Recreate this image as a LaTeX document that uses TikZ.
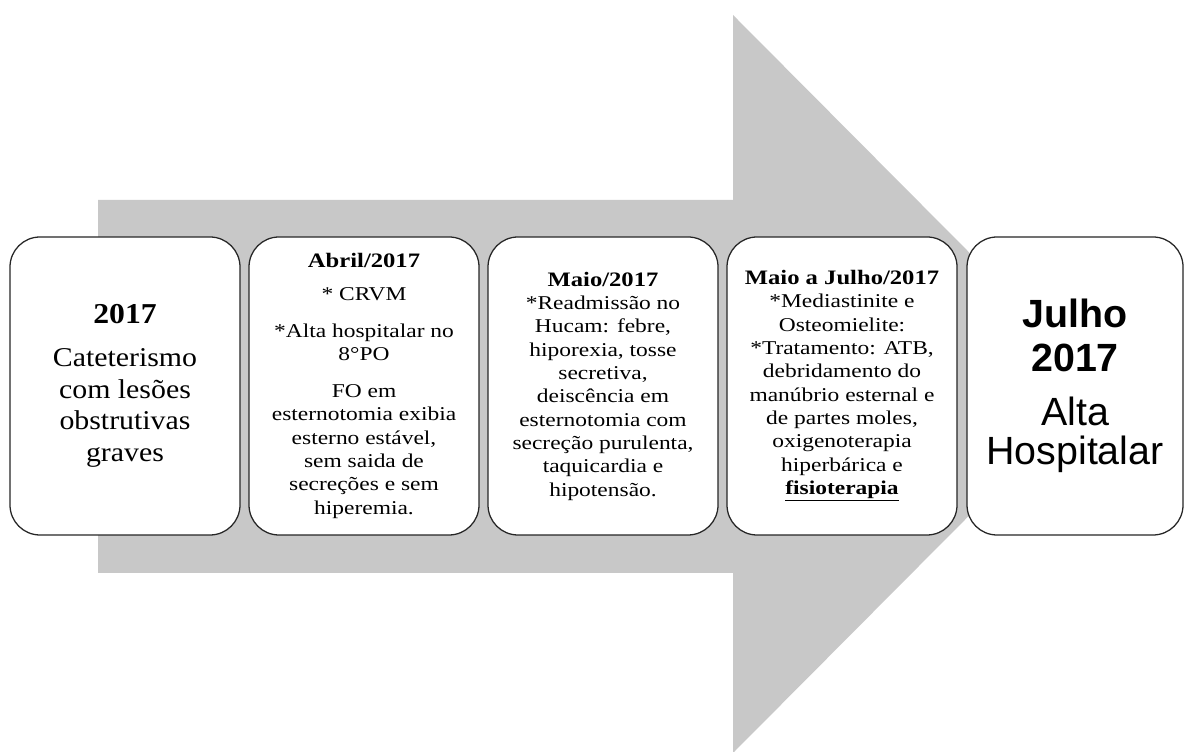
\documentclass[tikz,border=0pt]{standalone}
\usepackage{fontspec}
\setmainfont{Liberation Serif}[FakeStretch=1.2]
\newfontfamily\wideserif{Liberation Serif}[FakeStretch=1.1]
\newfontfamily\arialfont{Liberation Sans}
\definecolor{arrowgray}{RGB}{200,200,200}

\begin{document}
\begin{tikzpicture}[
  stage/.style={draw=black!85, line width=0.9pt, fill=white, rounded corners=0.75cm,
    minimum width=5.75cm, minimum height=7.45cm, align=center, inner sep=2pt,
    font=\fontsize{13.9pt}{16.6pt}\selectfont}
]
%\draw[help lines] (0,0) grid (29.6,18.8);
\useasboundingbox (0,0) rectangle (29.6,18.8);
\fill[arrowgray] (2.45,4.475) -- (2.45,13.8) -- (18.325,13.8) -- (18.325,18.425)
  -- (27.5,9.2) -- (18.325,-0.025) -- (18.325,4.475) -- cycle;

\node[stage, font=\wideserif\fontsize{19.3pt}{22.5pt}\selectfont] (s1) at (3.125,9.15)
  {{\fontsize{20.5pt}{22.5pt}\selectfont\bfseries 2017}\\[8pt]
   Cateterismo\\ com lesões\\ obstrutivas\\ graves};

\node[stage] (s2) at (9.1,9.15)
  {{\fontsize{14.6pt}{16.6pt}\selectfont\bfseries Abril/2017}\\[6.8pt]
   * CRVM\\[9.5pt]
   *Alta hospitalar no\\ 8°PO\\[9.6pt]
   FO em\\ esternotomia exibia\\ esterno estável,\\ sem saida de\\ secreções e sem\\ hiperemia.};

\node[stage] (s3) at (15.075,9.15)
  {{\fontsize{14.6pt}{16.6pt}\selectfont\bfseries Maio/2017}\\
   *Readmissão no\\ Hucam: febre,\\ hiporexia, tosse\\ secretiva,\\ deiscência em\\
   esternotomia com\\ secreção purulenta,\\ taquicardia e\\ hipotensão.};

\node[stage] (s4) at (21.05,9.15)
  {{\fontsize{14.6pt}{16.6pt}\selectfont\bfseries Maio a Julho/2017}\\
   *Mediastinite e\\ Osteomielite:\\ *Tratamento: ATB,\\ debridamento do\\
   manúbrio esternal e\\ de partes moles,\\ oxigenoterapia\\ hiperbárica e\\
   \underline{\textbf{fisioterapia}}};

\node[stage, minimum width=5.4cm, font=\arialfont\fontsize{28pt}{27.5pt}\selectfont] (s5) at (26.875,9.15)
  {{\bfseries Julho}\\[3.3pt] {\bfseries 2017}\\[11.5pt] Alta\\ Hospitalar};
\end{tikzpicture}
\end{document}
